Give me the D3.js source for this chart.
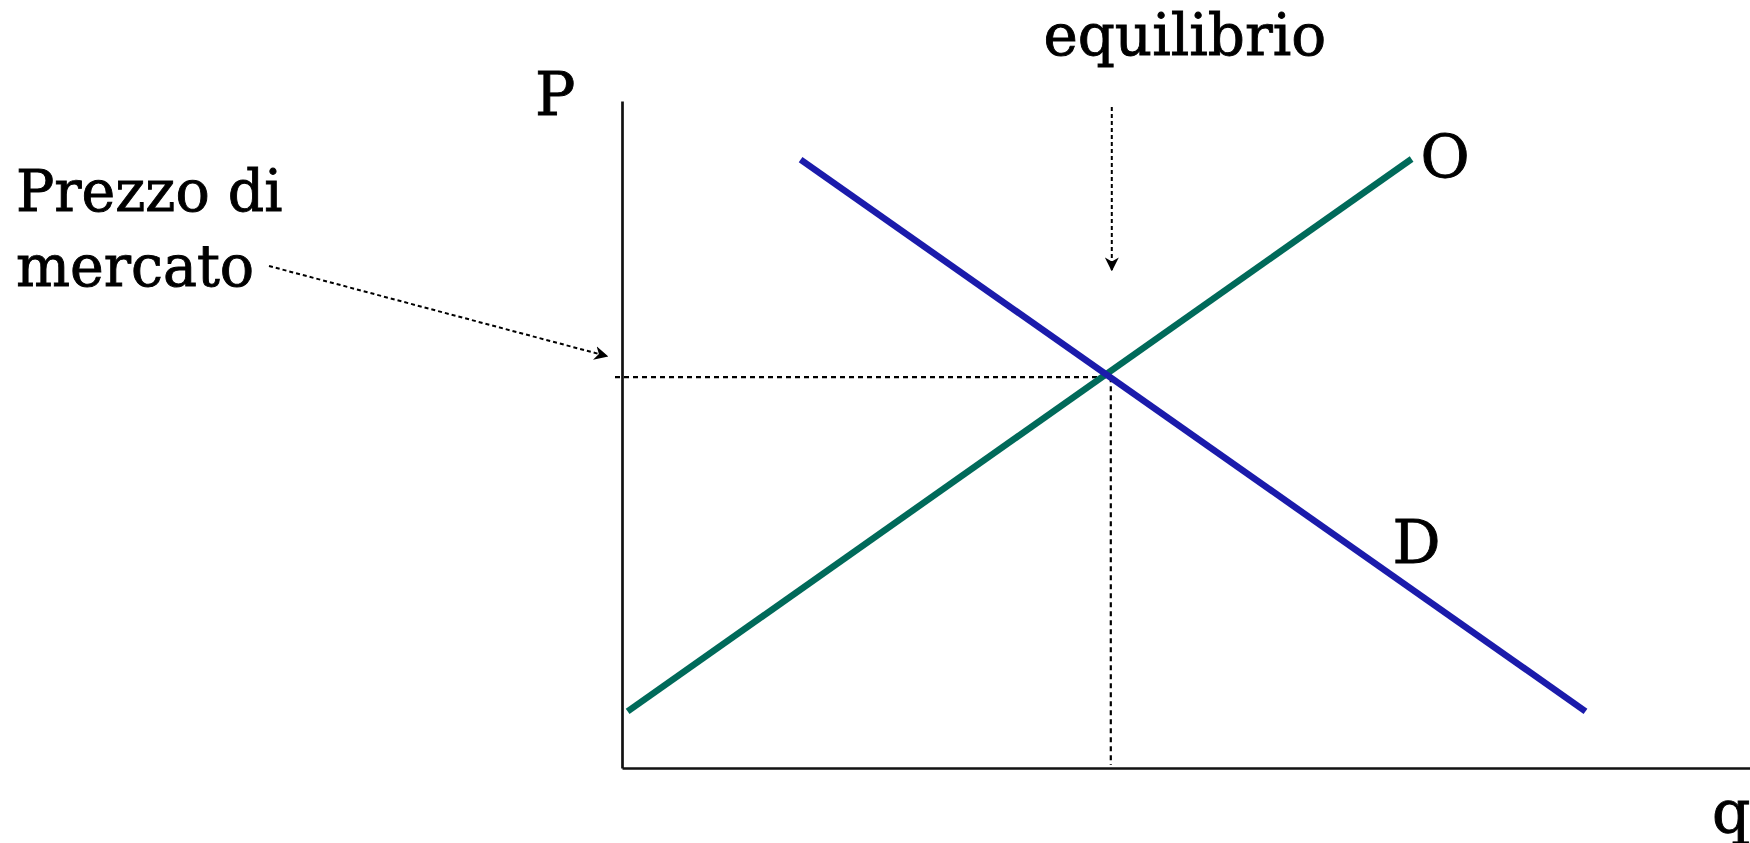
<html>
<head>
    <meta charset="utf-8">
    <style>
        body { margin: 0; background: #ffffff; }
        svg { display: block; }
        .etichetta { font-family: "DejaVu Serif", serif; fill: #000000; stroke: #000000; stroke-width: 0.9px; }
    </style>
    <script src="https://cdn.jsdelivr.net/npm/d3@7"></script>
</head>
<body>
<svg id="Grafico"></svg>

<script>
    // Dati del grafico (unità arbitrarie: quantità q, prezzo P)
    const etichetteCurve = ["O", "D"];
    const offertaQ = [0.06, 8.4];
    const offertaP = [0.85, 9.13];
    const domandaQ = [1.9, 10.25];
    const domandaP = [9.12, 0.85];
    const equilibrioQP = [5.2, 5.86];
    const etichetteAssi = ["P", "q"];
    const testiNote = ["Prezzo di", "mercato", "equilibrio"];

    const ancho = 1750, alto = 843;
    const contenedor = d3.select("#Grafico").attr("width", ancho).attr("height", alto);

    const escalaX = d3.scaleLinear().domain([0, 12]).range([622, 1750]);
    const escalaY = d3.scaleLinear().domain([0, 10]).range([768, 101]);

    // marcatore per le frecce tratteggiate
    contenedor.append("defs").append("marker")
        .attr("id", "punta")
        .attr("viewBox", "0 0 10 10")
        .attr("refX", 9).attr("refY", 5)
        .attr("markerWidth", 7).attr("markerHeight", 7)
        .attr("markerUnits", "strokeWidth")
        .attr("orient", "auto")
        .append("path")
        .attr("d", "M0,0 L10,5 L0,10 L3,5 Z")
        .attr("fill", "#000");

    // assi senza tacche
    contenedor.append("g")
        .attr("transform", `translate(${escalaX(0)},0)`)
        .call(d3.axisLeft(escalaY).ticks(0).tickSizeOuter(0))
        .select(".domain").attr("stroke", "#111").attr("stroke-width", 2.7);

    contenedor.append("g")
        .attr("transform", `translate(0,${escalaY(0)})`)
        .call(d3.axisBottom(escalaX).ticks(0).tickSizeOuter(0))
        .select(".domain").attr("stroke", "#111").attr("stroke-width", 2.7);

    // linee tratteggiate di equilibrio
    let [qe, pe] = equilibrioQP;
    contenedor.append("line")
        .attr("x1", escalaX(0) - 7).attr("y1", escalaY(pe))
        .attr("x2", escalaX(qe)).attr("y2", escalaY(pe))
        .attr("stroke", "#000").attr("stroke-width", 2.2)
        .attr("stroke-dasharray", "5,4");
    contenedor.append("line")
        .attr("x1", escalaX(qe)).attr("y1", escalaY(pe))
        .attr("x2", escalaX(qe)).attr("y2", escalaY(0) - 3)
        .attr("stroke", "#000").attr("stroke-width", 2.2)
        .attr("stroke-dasharray", "5,4");

    // curve di offerta e domanda
    const curve = [
        { nome: etichetteCurve[0], q: offertaQ, p: offertaP, colore: "#006a5a" },
        { nome: etichetteCurve[1], q: domandaQ, p: domandaP, colore: "#1b1bab" }
    ];
    const linea = d3.line().x(d => escalaX(d[0])).y(d => escalaY(d[1]));

    contenedor.selectAll(".curva")
        .data(curve)
        .enter().append("path")
        .attr("class", "curva")
        .attr("d", c => linea(d3.zip(c.q, c.p)))
        .attr("fill", "none")
        .attr("stroke", c => c.colore)
        .attr("stroke-width", 6.5);

    // etichette delle curve
    contenedor.append("text").attr("class", "etichetta")
        .attr("x", escalaX(offertaQ[1]) + 9).attr("y", escalaY(offertaP[1]) + 19)
        .attr("font-size", 60).text(etichetteCurve[0]);
    contenedor.append("text").attr("class", "etichetta")
        .attr("x", escalaX(domandaQ[1]) - 193).attr("y", escalaY(domandaP[1]) - 148)
        .attr("font-size", 60).text(etichetteCurve[1]);

    // etichette degli assi
    contenedor.append("text").attr("class", "etichetta")
        .attr("x", escalaX(0) - 87).attr("y", escalaY(10) + 14)
        .attr("font-size", 60).text(etichetteAssi[0]);
    contenedor.append("text").attr("class", "etichetta")
        .attr("x", 1712).attr("y", escalaY(0) + 65)
        .attr("font-size", 60).text(etichetteAssi[1]);

    // note con frecce
    contenedor.append("text").attr("class", "etichetta")
        .attr("x", 16).attr("y", 211).attr("font-size", 57).text(testiNote[0]);
    contenedor.append("text").attr("class", "etichetta")
        .attr("x", 16).attr("y", 286).attr("font-size", 57).text(testiNote[1]);
    contenedor.append("text").attr("class", "etichetta")
        .attr("x", escalaX(qe) + 74).attr("y", 55)
        .attr("text-anchor", "middle")
        .attr("font-size", 58).text(testiNote[2]);

    contenedor.append("line")
        .attr("x1", 269).attr("y1", 266)
        .attr("x2", escalaX(0) - 15).attr("y2", escalaY(pe) - 21)
        .attr("stroke", "#000").attr("stroke-width", 2)
        .attr("stroke-dasharray", "4,3")
        .attr("marker-end", "url(#punta)");
    contenedor.append("line")
        .attr("x1", escalaX(qe) + 1).attr("y1", 107)
        .attr("x2", escalaX(qe) + 1).attr("y2", 270)
        .attr("stroke", "#000").attr("stroke-width", 2)
        .attr("stroke-dasharray", "4,3")
        .attr("marker-end", "url(#punta)");
</script>
</body>
</html>
